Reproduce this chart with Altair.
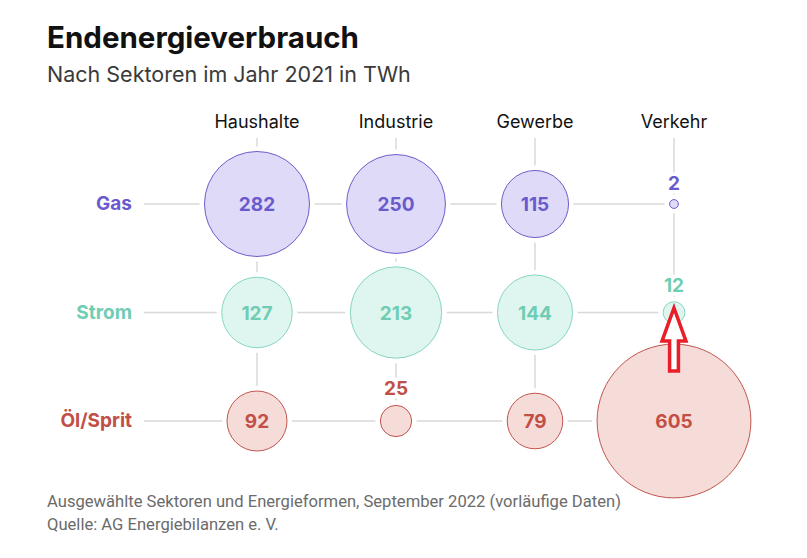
import altair as alt
import pandas as pd

# Final energy consumption 2021 (TWh) by sector and energy carrier
sectors = ["Haushalte", "Industrie", "Gewerbe", "Verkehr"]
forms = ["Gas", "Strom", "Öl/Sprit"]
gas = [282, 250, 115, 2]
strom = [127, 213, 144, 12]
oel = [92, 25, 79, 605]

title = "Endenergieverbrauch"
subtitle = "Nach Sektoren im Jahr 2021 in TWh"
note = "Ausgewählte Sektoren und Energieformen, September 2022 (vorläufige Daten)"
source = "Quelle: AG Energiebilanzen e. V."

fill_colors = ["#dedaf7", "#dff5ef", "#f6dcd8"]
stroke_colors = ["#6c5fcb", "#86d6c3", "#c0554e"]
text_colors = ["#6a5acd", "#70cdb3", "#c24f46"]

rows = []
for form, vals in zip(forms, [gas, strom, oel]):
    for s, v in zip(sectors, vals):
        rows.append({"sektor": s, "form": form, "twh": v})
df = pd.DataFrame(rows)

FONT = "Inter"
NOTE_FONT = "Roboto"
W, H = 807, 558
R_PER_ROOT = 3.127   # bubble radius in px per sqrt(TWh)
MAX_TWH = 605
# Vega circle symbols have radius sqrt(size)/2, so size = 4 r^2
SIZE_PER_TWH = 4 * R_PER_ROOT ** 2

x_enc = alt.X("sektor:N", axis=None,
              scale=alt.Scale(type="point", domain=sectors, range=[257, 674], padding=0))
y_enc = alt.Y("form:N", axis=None,
              scale=alt.Scale(type="point", domain=forms, range=[204, 421], padding=0))
size_enc = alt.Size("twh:Q", legend=None,
                    scale=alt.Scale(type="linear", zero=True, nice=False, domain=[0, MAX_TWH],
                                    range=[0, SIZE_PER_TWH * MAX_TWH]))
fill_enc = alt.Color("form:N", legend=None,
                     scale=alt.Scale(domain=forms, range=fill_colors))
stroke_enc = alt.Stroke("form:N", legend=None,
                        scale=alt.Scale(domain=forms, range=stroke_colors))
text_color_enc = alt.Color("form:N", legend=None,
                           scale=alt.Scale(domain=forms, range=text_colors))

base = alt.Chart(df)
grid_color = "#d9d9d9"

# vertical guide lines from below the column headers down to the last row
vlines = base.transform_filter(alt.datum.form == "Öl/Sprit").mark_rule(
    color=grid_color, strokeWidth=1.5
).encode(x=x_enc, y=y_enc, y2=alt.value(138))

# horizontal guide lines from the row labels to the last column
hlines = base.transform_filter(alt.datum.sektor == "Verkehr").mark_rule(
    color=grid_color, strokeWidth=1.5
).encode(y=y_enc, x=x_enc, x2=alt.value(144))

# white rings that cut the guide lines around each bubble
halos = base.mark_circle(color="white", stroke="white", strokeWidth=10, opacity=1).encode(
    x=x_enc, y=y_enc, size=size_enc
)

bubbles = base.mark_circle(opacity=1, strokeWidth=1).encode(
    x=x_enc, y=y_enc, size=size_enc, color=fill_enc, stroke=stroke_enc
)

# values inside the large bubbles
inner_labels = base.transform_filter(alt.datum.twh >= 50).mark_text(
    font=FONT, fontSize=19, fontWeight="bold", baseline="middle", align="center", dy=1
).encode(x=x_enc, y=y_enc, text=alt.Text("twh:Q"), color=text_color_enc)

# values above the small bubbles
outer = base.transform_filter(alt.datum.twh < 50).transform_calculate(
    off=f"-({R_PER_ROOT} * sqrt(datum.twh) + 10)"
)
outer_halo = outer.mark_text(
    font=FONT, fontSize=19, fontWeight="bold", baseline="alphabetic", align="center",
    stroke="white", strokeWidth=7, color="white"
).encode(x=x_enc, y=y_enc, yOffset=alt.YOffset("off:Q", scale=None), text=alt.Text("twh:Q"))
outer_labels = outer.mark_text(
    font=FONT, fontSize=19, fontWeight="bold", baseline="alphabetic", align="center"
).encode(x=x_enc, y=y_enc, yOffset=alt.YOffset("off:Q", scale=None),
         text=alt.Text("twh:Q"), color=text_color_enc)

# column headers
col_df = pd.DataFrame({"sektor": sectors})
headers = alt.Chart(col_df).mark_text(
    font=FONT, fontSize=18, color="#111111", baseline="alphabetic", align="center"
).encode(x=x_enc, y=alt.value(128), text="sektor:N")

# row labels
row_df = pd.DataFrame({"form": forms})
row_labels = alt.Chart(row_df).mark_text(
    font=FONT, fontSize=19, fontWeight="bold", baseline="middle", align="right"
).encode(y=y_enc, x=alt.value(132), text="form:N", color=text_color_enc)

# red outline arrow pointing at the small Verkehr/Strom bubble
arrow_path = "M 0 -1 L 0.38 0.05 L 0.14 0.05 L 0.14 1 L -0.14 1 L -0.14 0.05 L -0.38 0.05 Z"
arrow = base.transform_filter(
    (alt.datum.sektor == "Verkehr") & (alt.datum.form == "Strom")
).mark_point(
    shape=arrow_path, size=63 * 63, filled=True, fill="white", opacity=1,
    stroke="#e81f28", strokeWidth=3.5, strokeJoin="miter", yOffset=27
).encode(x=x_enc, y=y_enc)


def text_line(txt, px, py, size, weight="normal", color="#000000", font=FONT):
    return alt.Chart(pd.DataFrame({"t": [txt]})).mark_text(
        font=font, fontSize=size, fontWeight=weight, color=color,
        align="left", baseline="alphabetic"
    ).encode(x=alt.value(px), y=alt.value(py), text="t:N")


title_t = text_line(title, 47, 48, 29.5, "bold", "#111111")
subtitle_t = text_line(subtitle, 47, 82, 21.5, "normal", "#3a3a3a")
note_t = text_line(note, 47, 507, 16.6, "normal", "#6b6b6b", NOTE_FONT)
source_t = text_line(source, 47, 530, 16.6, "normal", "#6b6b6b", NOTE_FONT)

chart = alt.layer(
    vlines, hlines, halos, bubbles, inner_labels, outer_halo, outer_labels,
    headers, row_labels, arrow, title_t, subtitle_t, note_t, source_t
).resolve_scale(color="independent").properties(
    width=W, height=H, padding=0, autosize=alt.AutoSizeParams(type="none"),
    background="white"
).configure_view(stroke=None)

chart.save("out.html", embed_options={"renderer": "svg", "actions": False})
